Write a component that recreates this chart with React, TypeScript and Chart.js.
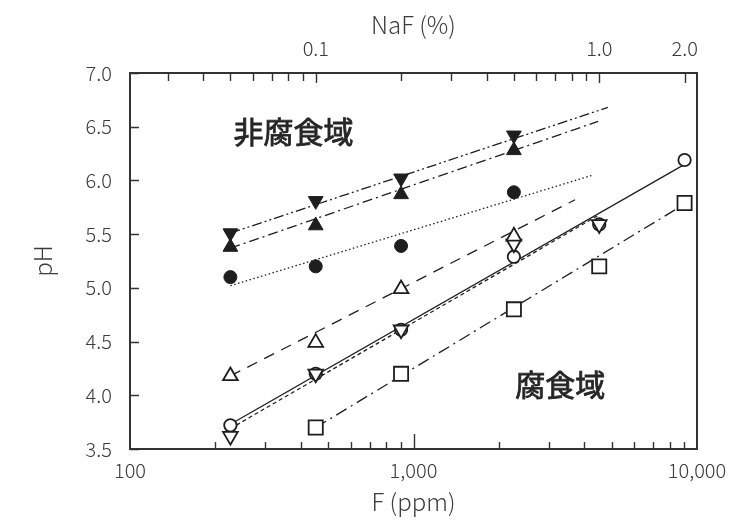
import React, { useEffect, useRef } from 'react';
import { Chart, registerables } from 'chart.js';

Chart.register(...registerables);

// ---- data (F in ppm, pH) ----
const F_PPM = [226, 452, 904, 2260, 4520, 9040];
const PH_FILLED_DOWN = [5.51, 5.81, 6.02, 6.42];
const PH_FILLED_UP = [5.38, 5.58, 5.87, 6.28];
const PH_FILLED_CIRCLE = [5.1, 5.2, 5.39, 5.89];
const PH_OPEN_UP = [4.18, 4.49, 4.99, 5.48];
const PH_OPEN_CIRCLE = [3.72, 4.2, 4.61, 5.29, 5.59, 6.19];
const PH_OPEN_DOWN = [3.62, 4.2, 4.61, 5.41, 5.59];
const PH_OPEN_SQUARE = [null, 3.7, 4.2, 4.8, 5.2, 5.79];

// fitted trend lines: start/end F (ppm) and pH
const FIT_FILLED_DOWN_F = [226, 4850];
const FIT_FILLED_DOWN_PH = [5.51, 6.68];
const FIT_FILLED_UP_F = [226, 4480];
const FIT_FILLED_UP_PH = [5.37, 6.55];
const FIT_FILLED_CIRCLE_F = [226, 4300];
const FIT_FILLED_CIRCLE_PH = [5.02, 6.05];
const FIT_OPEN_UP_F = [226, 3715];
const FIT_OPEN_UP_PH = [4.18, 5.82];
const FIT_OPEN_CIRCLE_F = [226, 9040];
const FIT_OPEN_CIRCLE_PH = [3.73, 6.15];
const FIT_OPEN_DOWN_F = [226, 4520];
const FIT_OPEN_DOWN_PH = [3.69, 5.68];
const FIT_OPEN_SQUARE_F = [452, 9040];
const FIT_OPEN_SQUARE_PH = [3.7, 5.78];

// ---- axes ----
const X_MIN = 100;
const X_MAX = 10000;
const X_LABEL_TICKS = [100, 1000, 10000];
const X_MAJOR_MARKS = [1000];
const X_MINOR_MARKS = [200, 300, 400, 500, 600, 700, 800, 900, 2000, 3000, 4000, 5000, 6000, 7000, 8000, 9000];
const NAF_TO_F = 4524; // ppm F per % NaF
const NAF_LABEL_TICKS = [0.1, 1.0, 2.0];
const NAF_LABEL_TEXT = ['0.1', '1.0', '2.0'];
const NAF_MINOR_MARKS = [0.03, 0.04, 0.05, 0.06, 0.07, 0.08, 0.09, 0.2, 0.3, 0.4, 0.5, 0.6, 0.7, 0.8, 0.9];
const Y_MIN = 3.5;
const Y_MAX = 7.0;
const Y_TICKS = [3.5, 4.0, 4.5, 5.0, 5.5, 6.0, 6.5, 7.0];

// ---- annotations ----
const ANNOT_TEXT = ['非腐食域', '腐食域'];
const ANNOT_F = [377, 3290];
const ANNOT_PH = [6.45, 4.1];

const FONT = '"Noto Sans CJK JP", "Noto Sans", sans-serif';
const TEXT_COLOR = '#3c3c3c';
const INK = '#1e1e1e';

const pts = (ys: (number | null)[]) =>
  ys.map((y, i) => (y == null ? null : { x: F_PPM[i], y })).filter(Boolean) as { x: number; y: number }[];
const line = (xs: number[], ys: number[]) => xs.map((x, i) => ({ x, y: ys[i] }));

const framePlugin = {
  id: 'frame',
  afterDraw(chart: any) {
    const { ctx, chartArea, scales } = chart;
    const { left, right, top, bottom } = chartArea;
    const xs = scales.x;
    const ys = scales.y;
    ctx.save();
    ctx.strokeStyle = '#333';
    ctx.lineWidth = 1.4;
    ctx.beginPath();
    const vtick = (px: number, len: number, atTop: boolean) => {
      const x = Math.round(px) + 0.5;
      if (atTop) {
        ctx.moveTo(x, top);
        ctx.lineTo(x, top + len);
      } else {
        ctx.moveTo(x, bottom);
        ctx.lineTo(x, bottom - len);
      }
    };
    X_MINOR_MARKS.forEach((v) => vtick(xs.getPixelForValue(v), 7, false));
    X_MAJOR_MARKS.forEach((v) => vtick(xs.getPixelForValue(v), 15, false));
    NAF_MINOR_MARKS.forEach((v) => vtick(xs.getPixelForValue(v * NAF_TO_F), 8, true));
    NAF_LABEL_TICKS.forEach((v) => vtick(xs.getPixelForValue(v * NAF_TO_F), 10, true));
    Y_TICKS.forEach((v) => {
      const y = Math.round(ys.getPixelForValue(v)) + 0.5;
      ctx.moveTo(left, y);
      ctx.lineTo(left + 9, y);
    });
    ctx.stroke();
    ctx.lineWidth = 2;
    ctx.strokeRect(left, top, right - left, bottom - top);

    ctx.fillStyle = '#262626';
    ctx.strokeStyle = '#262626';
    ctx.lineWidth = 0.8;
    ctx.font = `400 30px ${FONT}`;
    ctx.textAlign = 'center';
    ctx.textBaseline = 'middle';
    ANNOT_TEXT.forEach((t, i) => {
      const px = xs.getPixelForValue(ANNOT_F[i]);
      const py = ys.getPixelForValue(ANNOT_PH[i]);
      ctx.fillText(t, px, py);
      ctx.strokeText(t, px, py);
    });
    ctx.restore();
  },
};

export default function App() {
  const ref = useRef<HTMLCanvasElement | null>(null);

  useEffect(() => {
    if (!ref.current) return;
    const lineDs = (xs: number[], yv: number[], dash: number[]) => ({
      type: 'line' as const,
      data: line(xs, yv),
      showLine: true,
      borderColor: INK,
      borderWidth: 1.3,
      borderDash: dash,
      pointRadius: 0,
      fill: false,
      order: 10,
    });
    const markDs = (ys: (number | null)[], style: string, rotation: number, filled: boolean, radius: number, order: number) => ({
      type: 'scatter' as const,
      data: pts(ys),
      showLine: false,
      pointStyle: style,
      rotation,
      pointRadius: radius,
      pointBackgroundColor: filled ? INK : '#ffffff',
      pointBorderColor: INK,
      pointBorderWidth: filled ? 1 : 1.8,
      order,
    });

    const tickFont = { family: FONT, size: 20, weight: 300 as any };
    const titleFont = { family: FONT, size: 24, weight: 300 as any };

    const chart = new Chart(ref.current, {
      type: 'scatter',
      data: {
        datasets: [
          lineDs(FIT_FILLED_DOWN_F, FIT_FILLED_DOWN_PH, [10, 3, 2, 3, 2, 3]),
          lineDs(FIT_FILLED_UP_F, FIT_FILLED_UP_PH, [10, 4, 2, 4]),
          lineDs(FIT_FILLED_CIRCLE_F, FIT_FILLED_CIRCLE_PH, [1.5, 2.5]),
          lineDs(FIT_OPEN_UP_F, FIT_OPEN_UP_PH, [11, 8]),
          lineDs(FIT_OPEN_CIRCLE_F, FIT_OPEN_CIRCLE_PH, []),
          lineDs(FIT_OPEN_DOWN_F, FIT_OPEN_DOWN_PH, [4, 3]),
          lineDs(FIT_OPEN_SQUARE_F, FIT_OPEN_SQUARE_PH, [12, 5, 2, 5]),
          markDs(PH_FILLED_DOWN, 'triangle', 180, true, 8.5, 1),
          markDs(PH_FILLED_UP, 'triangle', 0, true, 8.5, 2),
          markDs(PH_FILLED_CIRCLE, 'circle', 0, true, 6.5, 3),
          markDs(PH_OPEN_UP, 'triangle', 0, false, 8.5, 3),
          markDs(PH_OPEN_DOWN, 'triangle', 180, false, 8.5, 4),
          markDs(PH_OPEN_CIRCLE, 'circle', 0, false, 6.2, 5),
          markDs(PH_OPEN_SQUARE, 'rect', 0, false, 10, 3),
        ] as any,
      },
      options: {
        animation: false,
        responsive: true,
        maintainAspectRatio: false,
        layout: { padding: { left: 0, right: 48, top: 0, bottom: 0 } },
        plugins: { legend: { display: false }, tooltip: { enabled: false } },
        scales: {
          x: {
            type: 'logarithmic',
            position: 'bottom',
            min: X_MIN,
            max: X_MAX,
            grid: { display: false, drawTicks: false },
            border: { display: false },
            afterBuildTicks: (s: any) => {
              s.ticks = X_LABEL_TICKS.map((v) => ({ value: v }));
            },
            ticks: {
              autoSkip: false,
              maxRotation: 0,
              padding: 9,
              color: TEXT_COLOR,
              font: tickFont,
              callback: (v: any) => Number(v).toLocaleString('en-US'),
            },
            title: { display: true, text: 'F (ppm)', color: TEXT_COLOR, font: titleFont, padding: { top: 0, bottom: 6 } },
            afterFit: (s: any) => {
              s.height = 73;
              s.paddingLeft = 0;
              s.paddingRight = 0;
            },
          },
          x2: {
            type: 'logarithmic',
            position: 'top',
            min: X_MIN,
            max: X_MAX,
            grid: { display: false, drawTicks: false },
            border: { display: false },
            afterBuildTicks: (s: any) => {
              s.ticks = NAF_LABEL_TICKS.map((v) => ({ value: v * NAF_TO_F }));
            },
            ticks: {
              autoSkip: false,
              maxRotation: 0,
              padding: 13,
              color: TEXT_COLOR,
              font: tickFont,
              callback: (_v: any, i: number) => NAF_LABEL_TEXT[i],
            },
            title: { display: true, text: 'NaF (%)', color: TEXT_COLOR, font: titleFont, padding: { top: 10, bottom: 0 } },
            afterFit: (s: any) => {
              s.height = 73;
              s.paddingLeft = 0;
              s.paddingRight = 0;
            },
          },
          y: {
            type: 'linear',
            position: 'left',
            min: Y_MIN,
            max: Y_MAX,
            grid: { display: false, drawTicks: false },
            border: { display: false },
            afterBuildTicks: (s: any) => {
              s.ticks = Y_TICKS.map((v) => ({ value: v }));
            },
            ticks: {
              padding: 18,
              color: TEXT_COLOR,
              font: tickFont,
              callback: (v: any) => Number(v).toFixed(1),
            },
            title: { display: true, text: 'pH', color: TEXT_COLOR, font: titleFont, padding: { top: 28, bottom: 0 } },
            afterFit: (s: any) => {
              s.width = 130;
              s.paddingTop = 0;
              s.paddingBottom = 0;
            },
          },
        },
      } as any,
      plugins: [framePlugin],
    });
    return () => chart.destroy();
  }, []);

  return (
    <div style={{ position: 'absolute', left: 0, top: 0, width: 745, height: 522, background: '#fff' }}>
      <canvas ref={ref} />
    </div>
  );
}
